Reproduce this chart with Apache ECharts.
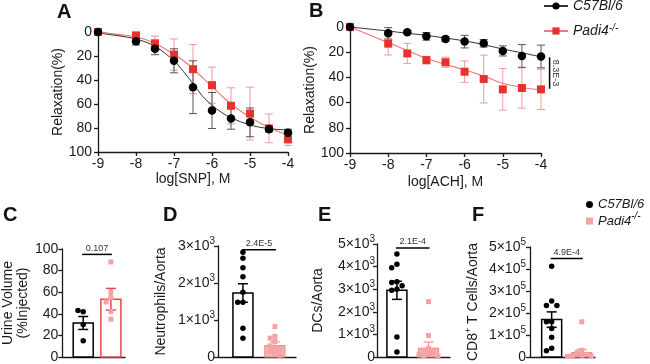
<!DOCTYPE html>
<html><head><meta charset="utf-8">
<script src="https://cdn.jsdelivr.net/npm/echarts@6/dist/echarts.min.js"></script>
<style>html,body{margin:0;padding:0;background:#fff}#c{width:650px;height:364px}</style>
</head><body><div id="c"></div>
<script>
const FONT = 'Liberation Sans, Arial, Helvetica, sans-serif';
// ---------- data ----------
const doses = [-9, -8, -7.5, -7, -6.5, -6, -5.5, -5, -4.5, -4];
// A: SNP
const snpWT    = [0, 7.8, 13.9, 24, 46, 65.4, 72, 75.3, 81, 84];
const snpWTerr = [0, 3, 5, 10, 22, 15, 9, 12, 2, 3];
const snpKO    = [0, 2.8, 9.4, 18.8, 31, 44.3, 61.5, 68, 80.3, 89.5];
const snpKOerr = [0, 2, 6, 13, 20.5, 15, 15, 22, 12, 5];
const curveXA    = [-9, -8.5, -8, -7.5, -7, -6.75, -6.5, -6.25, -6, -5.75, -5.5, -5, -4.5, -4];
const snpWTcurve = [0.8, 3, 5.8, 12, 24, 33, 43, 53.5, 61, 67, 71.5, 77.5, 80.5, 81.7];
const snpKOcurve = [-0.5, 2, 4, 9.5, 18.5, 24, 30.5, 38, 45.5, 53, 60, 71, 79.5, 86];
// B: ACH
const achWT    = [0, 5, 4.2, 7.4, 9.5, 11.6, 12.9, 19, 23, 23.4];
const achWTerr = [0, 4.5, 1, 3, 2, 5, 3, 4, 9, 9];
const achKO    = [0, 13.2, 21, 26.3, 28, 35.5, 41.3, 49.5, 48.4, 49.5];
const achKOerr = [0, 9, 8, 3, 4, 8.5, 19, 16.5, 16, 16];
const achWTcurve = [0, 3.2, 5, 6.6, 8.8, 11, 14, 17.5, 20.5, 23.7];
const achKOcurve = [0, 12.4, 18.7, 25, 29.7, 34, 39, 44.7, 48, 50];
const achSig = [-4, 24, 49];
// C: urine volume
const urineMean = [31.5, 53.5];
const urineSem  = [6, 10];
const urineWT = [42, 43, 30, 15];
const urineKO = [88, 60, 55, 51, 42, 35];
// D: neutrophils
const neuMean = [1730, 310];
const neuSem  = [250, 100];
const neuWT = [2830, 2670, 2410, 2170, 1750, 1480, 1480, 780, 510];
const neuKO = [820, 560, 510, 420, 300, 250, 200, 150, 100, 50];
// E: DCs
const dcMean = [2950, 380];
const dcSem  = [400, 280];
const dcWT = [4560, 4100, 3950, 3330, 3300, 3150, 3000, 2950, 880, 220];
const dcKO = [2450, 950, 380, 300, 220, 150, 100, 60, 30];
// F: CD8+ T cells
const cdMean = [170000, 20000];
const cdSem  = [35000, 15000];
const cdWT = [413000, 254000, 234000, 234000, 160000, 160000, 130000, 90000, 40000, 28000];
const cdKO = [160000, 30000, 20000, 12000, 8000, 5000, 3000, 2000];
// significance
const sigTexts = ['0.107', '2.4E-5', '2.1E-4', '4.9E-4', '8.3E-3'];
const sigLevels = [95, 2900, 4825, 448000];
const seriesNames = ['C57Bl/6', 'Padi4-/-'];
const panelLetters = ['A', 'B', 'C', 'D', 'E', 'F'];

// ---------- styles ----------
const AX = '#1a1a1a';
const RED = '#e5322f', RED_LINE = '#f07672', RED_ERR = '#f29a97';
const PINK = '#f4a2a2', PINK_FILL = '#f6b4b4', PINK_EDGE = '#f08d8d', C_RED = '#e8474a';

const grids = [
  {left: 98, top: 32, width: 190, height: 120},
  {left: 350, top: 27, width: 191, height: 126},
  {left: 54, top: 249, width: 71, height: 112},
  {left: 218, top: 246, width: 78, height: 113},
  {left: 377, top: 244, width: 73, height: 114},
  {left: 530, top: 247, width: 65, height: 111}
];

function axisCommon() {
  return {
    type: 'value',
    axisLine: {show: true, onZero: false, lineStyle: {color: AX, width: 1.3}},
    axisTick: {show: true, length: 4, lineStyle: {color: AX, width: 1.3}},
    splitLine: {show: false},
    nameLocation: 'middle',
    nameTextStyle: {color: AX, fontSize: 14, fontFamily: FONT}
  };
}
function sciFmt(exp) {
  return v => v === 0 ? '{b|0}' : '{b|' + Math.round(v / Math.pow(10, exp)) + '×10}{s|' + exp + '}';
}
const sciRich = {
  b: {fontSize: 14, lineHeight: 20, fontFamily: FONT, color: AX},
  s: {fontSize: 10, lineHeight: 10, verticalAlign: 'top', fontFamily: FONT, color: AX}
};

const xAxes = [
  Object.assign(axisCommon(), {gridIndex: 0, min: -9, max: -4, interval: 1, name: 'log[SNP], M', nameGap: 20,
    axisLabel: {fontSize: 14, color: AX, fontFamily: FONT, margin: 5}}),
  Object.assign(axisCommon(), {gridIndex: 1, min: -9, max: -4, interval: 1, name: 'log[ACH], M', nameGap: 22,
    axisLabel: {fontSize: 14, color: AX, fontFamily: FONT, margin: 5}}),
  Object.assign(axisCommon(), {gridIndex: 2, min: -0.757, max: 1.51, axisTick: {show: false}, axisLabel: {show: false}}),
  Object.assign(axisCommon(), {gridIndex: 3, min: -0.78, max: 1.66, axisTick: {show: false}, axisLabel: {show: false}}),
  Object.assign(axisCommon(), {gridIndex: 4, min: -0.63, max: 1.68, axisTick: {show: false}, axisLabel: {show: false}}),
  Object.assign(axisCommon(), {gridIndex: 5, min: -0.72, max: 1.44, axisTick: {show: false}, axisLabel: {show: false}})
];
const yAxes = [
  Object.assign(axisCommon(), {gridIndex: 0, min: 0, max: 100, interval: 20, inverse: true, name: 'Relaxation(%)', nameGap: 28,
    axisLabel: {fontSize: 14, color: AX, fontFamily: FONT, margin: 6}}),
  Object.assign(axisCommon(), {gridIndex: 1, min: 0, max: 100, interval: 20, inverse: true, name: 'Relaxation(%)', nameGap: 26,
    axisLabel: {fontSize: 14, color: AX, fontFamily: FONT, margin: 6}}),
  Object.assign(axisCommon(), {gridIndex: 2, min: 0, max: 100, interval: 20, name: 'Urine Volume\n(%Injected)', nameGap: 20,
    nameTextStyle: {color: AX, fontSize: 14, fontFamily: FONT, lineHeight: 15},
    axisLabel: {fontSize: 14, color: AX, fontFamily: FONT, margin: 4}}),
  Object.assign(axisCommon(), {gridIndex: 3, min: 0, max: 3000, interval: 1000, name: 'Neutrophils/Aorta', nameGap: 50,
    axisLabel: {formatter: sciFmt(3), rich: sciRich, margin: 3}}),
  Object.assign(axisCommon(), {gridIndex: 4, min: 0, max: 5000, interval: 1000, name: 'DCs/Aorta', nameGap: 52,
    axisLabel: {formatter: sciFmt(3), rich: sciRich, margin: 2}}),
  Object.assign(axisCommon(), {gridIndex: 5, min: 0, max: 500000, interval: 100000, name: '{a|CD8}{s|+}{a| T Cells/Aorta}', nameGap: 48,
    nameTextStyle: {rich: {a: {fontSize: 14, lineHeight: 18, fontFamily: FONT, color: AX}, s: {fontSize: 9, lineHeight: 9, verticalAlign: 'top', fontFamily: FONT, color: AX}}},
    axisLabel: {formatter: sciFmt(5), rich: sciRich, margin: 4}})
];

// ---------- series builders ----------
function errSeries(gi, xs, ys, es, color) {
  return {type: 'custom', xAxisIndex: gi, yAxisIndex: gi, silent: true, z: 2,
    data: xs.map((x, i) => [x, ys[i], es[i]]),
    renderItem: (p, api) => {
      const x = api.value(0), y = api.value(1), e = api.value(2);
      if (!e) return null;
      const a = api.coord([x, y - e]), b = api.coord([x, y + e]);
      const w = 4;
      const st = {stroke: color, lineWidth: 1};
      return {type: 'group', children: [
        {type: 'line', shape: {x1: a[0], y1: a[1], x2: b[0], y2: b[1]}, style: st},
        {type: 'line', shape: {x1: a[0] - w, y1: a[1], x2: a[0] + w, y2: a[1]}, style: st},
        {type: 'line', shape: {x1: b[0] - w, y1: b[1], x2: b[0] + w, y2: b[1]}, style: st}
      ]};
    }};
}
function curveSeries(gi, name, xs, ys, color, width, symbol) {
  return {type: 'line', name: name, xAxisIndex: gi, yAxisIndex: gi, smooth: 0.35, showSymbol: false,
    symbol: symbol || 'none', symbolSize: 9, z: 3, silent: true,
    itemStyle: {color: symbol === 'rect' ? RED : '#000'},
    lineStyle: {color: color, width: width},
    data: xs.map((x, i) => [x, ys[i]])};
}
function ptSeries(gi, name, xs, ys, symbol, color, size) {
  return {type: 'scatter', name: name, xAxisIndex: gi, yAxisIndex: gi, symbol: symbol, symbolSize: size, z: 4,
    itemStyle: {color: color, opacity: 1}, silent: true,
    data: xs.map((x, i) => [x, ys[i]])};
}
function barSeries(gi, means, sems, styles) {
  return {type: 'custom', xAxisIndex: gi, yAxisIndex: gi, silent: true, z: 2,
    data: means.map((m, i) => [i, m, sems[i]]),
    renderItem: (p, api) => {
      const i = api.value(0), m = api.value(1), s = api.value(2);
      const st = styles[i];
      const top = api.coord([i, m]), base = api.coord([i, 0]);
      const up = api.coord([i, m + s]), dn = api.coord([i, m - s]);
      const w = 20, cw = 5;
      const ls = {stroke: st.stroke, lineWidth: st.lw};
      return {type: 'group', children: [
        {type: 'rect', shape: {x: top[0] - w / 2, y: top[1], width: w, height: base[1] - top[1]}, style: {fill: st.fill, stroke: st.stroke, lineWidth: st.lw}},
        {type: 'line', shape: {x1: up[0], y1: up[1], x2: dn[0], y2: dn[1]}, style: ls},
        {type: 'line', shape: {x1: up[0] - cw, y1: up[1], x2: up[0] + cw, y2: up[1]}, style: ls},
        {type: 'line', shape: {x1: dn[0] - cw, y1: dn[1], x2: dn[0] + cw, y2: dn[1]}, style: ls}
      ]};
    }};
}
function dotSeries(gi, group, pts, shape, color, size) {
  return {type: 'custom', xAxisIndex: gi, yAxisIndex: gi, silent: true, z: 5,
    data: pts.map(v => [group, v]),
    renderItem: (p, api) => {
      const idx = p.dataIndex;
      const cx = api.coord([group, pts[idx]])[0];
      const placed = [];
      let off = 0, cy = 0;
      for (let k = 0; k <= idx; k++) {
        const py = api.coord([group, pts[k]])[1];
        const cands = [0, -1, 1, -2, 2, -3, 3];
        let chosen = cands[cands.length - 1] * size;
        for (const c of cands) {
          const ox = c * size * 0.95;
          if (placed.every(q => Math.hypot(q[0] - ox, q[1] - py) >= size * 0.95)) { chosen = ox; break; }
        }
        placed.push([chosen, py]);
        if (k === idx) { off = chosen; cy = py; }
      }
      const x = cx + off;
      if (shape === 'circle') {
        return {type: 'circle', shape: {cx: x, cy: cy, r: size / 2}, style: {fill: color}};
      }
      return {type: 'rect', shape: {x: x - size / 2, y: cy - size / 2, width: size, height: size}, style: {fill: color}};
    }};
}
function sigSeries(gi, y, text) {
  return {type: 'custom', xAxisIndex: gi, yAxisIndex: gi, silent: true, z: 6,
    data: [[0, 1, y]],
    renderItem: (p, api) => {
      const a = api.coord([api.value(0), api.value(2)]), b = api.coord([api.value(1), api.value(2)]);
      return {type: 'group', children: [
        {type: 'line', shape: {x1: a[0] - 1, y1: a[1], x2: b[0] + 1, y2: b[1]}, style: {stroke: '#000', lineWidth: 1.5}},
        {type: 'text', x: (a[0] + b[0]) / 2, y: a[1] - 1.5, style: {text: text, fontSize: 9, fontFamily: FONT, fill: '#333', align: 'center', verticalAlign: 'bottom'}}
      ]};
    }};
}
function vSigSeries(gi, d, text) {
  return {type: 'custom', xAxisIndex: gi, yAxisIndex: gi, silent: true, z: 6, clip: false,
    data: [d],
    renderItem: (p, api) => {
      const a = api.coord([api.value(0), api.value(1)]), b = api.coord([api.value(0), api.value(2)]);
      const x = a[0] + 8.6;
      return {type: 'group', children: [
        {type: 'line', shape: {x1: x, y1: a[1], x2: x, y2: b[1]}, style: {stroke: '#000', lineWidth: 1.5}},
        {type: 'text', x: x + 5.5, y: (a[1] + b[1]) / 2, rotation: -Math.PI / 2, style: {text: text, fontSize: 9, fontFamily: FONT, fill: '#333', align: 'center', verticalAlign: 'middle'}}
      ]};
    }};
}

const series = [
  // A
  errSeries(0, doses, snpKO, snpKOerr, RED_ERR),
  errSeries(0, doses, snpWT, snpWTerr, '#555'),
  curveSeries(0, 'A-KO-fit', curveXA, snpKOcurve, RED_LINE, 1.1),
  curveSeries(0, 'A-WT-fit', curveXA, snpWTcurve, '#333', 1),
  ptSeries(0, 'A-KO', doses, snpKO, 'rect', RED, 8),
  ptSeries(0, 'A-WT', doses, snpWT, 'circle', '#000', 8.5),
  // B
  errSeries(1, doses, achKO, achKOerr, RED_ERR),
  errSeries(1, doses, achWT, achWTerr, '#555'),
  curveSeries(1, seriesNames[1], doses, achKOcurve, RED_LINE, 1.1, 'rect'),
  curveSeries(1, seriesNames[0], doses, achWTcurve, '#333', 1, 'circle'),
  ptSeries(1, 'B-KO', doses, achKO, 'rect', RED, 8),
  ptSeries(1, 'B-WT', doses, achWT, 'circle', '#000', 8.5),
  vSigSeries(1, achSig, sigTexts[4]),
  // C
  barSeries(2, urineMean, urineSem, [{fill: '#fff', stroke: '#000', lw: 1.5}, {fill: '#fff', stroke: C_RED, lw: 1.5}]),
  dotSeries(2, 0, urineWT, 'circle', '#000', 5.5),
  dotSeries(2, 1, urineKO, 'rect', PINK, 5),
  sigSeries(2, sigLevels[0], sigTexts[0]),
  // D
  barSeries(3, neuMean, neuSem, [{fill: '#fff', stroke: '#000', lw: 1.5}, {fill: PINK_FILL, stroke: PINK_EDGE, lw: 1.2}]),
  dotSeries(3, 0, neuWT, 'circle', '#000', 5.5),
  dotSeries(3, 1, neuKO, 'rect', PINK, 5),
  sigSeries(3, sigLevels[1], sigTexts[1]),
  // E
  barSeries(4, dcMean, dcSem, [{fill: '#fff', stroke: '#000', lw: 1.5}, {fill: PINK_FILL, stroke: PINK_EDGE, lw: 1.2}]),
  dotSeries(4, 0, dcWT, 'circle', '#000', 5.5),
  dotSeries(4, 1, dcKO, 'rect', PINK, 5),
  sigSeries(4, sigLevels[2], sigTexts[2]),
  // F
  barSeries(5, cdMean, cdSem, [{fill: '#fff', stroke: '#000', lw: 1.5}, {fill: PINK_FILL, stroke: PINK_EDGE, lw: 1.2}]),
  dotSeries(5, 0, cdWT, 'circle', '#000', 5.5),
  dotSeries(5, 1, cdKO, 'rect', PINK, 5),
  sigSeries(5, sigLevels[3], sigTexts[3])
];

function legendRich(fs, lh) {
  return {
    i: {fontSize: fs, fontStyle: 'italic', fontFamily: FONT, color: AX, lineHeight: lh, overflow: 'none'},
    s: {fontSize: 10, fontStyle: 'italic', fontFamily: FONT, color: AX, lineHeight: 8, verticalAlign: 'top'}
  };
}
const legendFmt = n => n === seriesNames[1] ? '{i|Padi4}{s|-/-}' : '{i|' + n + '}';

const titlePos = [[57, 2], [309, 1], [3, 205], [163, 205], [318, 205], [472, 205]];

const option = {
  animation: false,
  backgroundColor: '#fff',
  textStyle: {fontFamily: FONT},
  title: panelLetters.map((t, i) => ({text: t, left: titlePos[i][0], top: titlePos[i][1], padding: 0,
    textStyle: {fontSize: 20, fontWeight: 'bold', color: '#111', fontFamily: FONT}})),
  grid: grids,
  xAxis: xAxes,
  yAxis: yAxes,
  legend: [
    {data: seriesNames, orient: 'vertical', left: 543, top: -1, padding: 0, itemWidth: 24, itemHeight: 9, itemGap: 10,
      selectedMode: false, formatter: legendFmt, textStyle: {overflow: 'none', rich: legendRich(14, 16)}},
    {data: [{name: seriesNames[0], icon: 'circle', itemStyle: {color: '#000'}},
            {name: seriesNames[1], icon: 'rect', itemStyle: {color: PINK}}],
      orient: 'vertical', left: 586, top: 198, padding: 0, itemWidth: 7, itemHeight: 7, itemGap: 0,
      selectedMode: false, formatter: legendFmt, textStyle: {overflow: 'none', rich: legendRich(13, 20)}}
  ],
  series: series
};
const chart = echarts.init(document.getElementById('c'));
chart.setOption(option);
</script>
</body></html>
